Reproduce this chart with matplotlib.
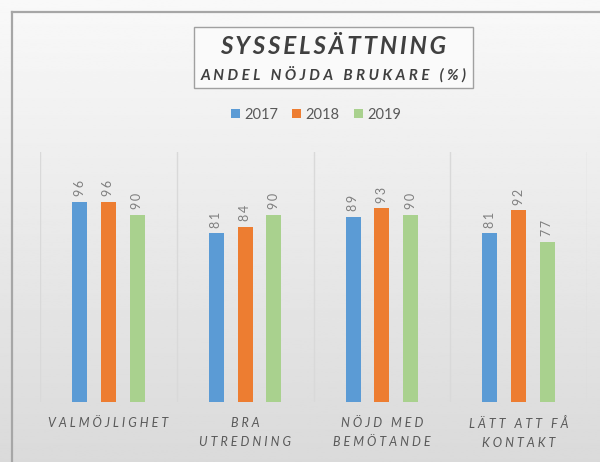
import numpy as np
import matplotlib
matplotlib.use("Agg")
import matplotlib.pyplot as plt
from matplotlib.patches import Rectangle

# ----------------------------------------------------------
# Data
# ----------------------------------------------------------
categories = ["VALMÖJLIGHET", "BRA\nUTREDNING", "NÖJD MED\nBEMÖTANDE", "LÄTT ATT FÅ\nKONTAKT"]
years = ["2017", "2018", "2019"]
values_2017 = [96, 81, 89, 81]
values_2018 = [96, 84, 93, 92]
values_2019 = [90, 90, 90, 77]
colors = ["#5b9bd5", "#ed7d31", "#a9d18e"]

title = "SYSSELSÄTTNING"
subtitle = "ANDEL NÖJDA BRUKARE (%)"

FONT = ["Lato", "DejaVu Sans"]
TXT = "#595959"


def spaced(s, sep="\u2009"):
    # fake letter spacing with thin spaces
    return "\n".join(sep.join(line) for line in s.split("\n"))


fig = plt.figure(figsize=(6.0, 4.62), dpi=100)

# ----------------------------------------------------------
# Background gradient + border
# ----------------------------------------------------------
bg = fig.add_axes([0, 0, 1, 1], zorder=-10)
grad = np.linspace(0.975, 0.855, 256).reshape(-1, 1)
bg.imshow(grad, aspect="auto", cmap="gray", vmin=0, vmax=1,
          extent=[0, 1, 0, 1], origin="upper")
bg.set_xlim(0, 1)
bg.set_ylim(0, 1)
bg.axis("off")
bg.plot([12 / 600, 12 / 600], [0, 1 - 12 / 462], color="#a6a6a6", lw=1.6)
bg.plot([12 / 600, 1], [1 - 12 / 462, 1 - 12 / 462], color="#a6a6a6", lw=1.6)

# title box
bg.add_patch(Rectangle((194 / 600, 1 - 88 / 462), 279 / 600, 61 / 462,
                       facecolor="#fafafa", edgecolor="#a0a0a0", lw=1.0))
bg.text(333 / 600, 1 - 47 / 462, spaced(title), ha="center", va="center",
        fontsize=17.5, fontweight="bold", fontstyle="italic", color="#404040", family=FONT)
bg.text(334 / 600, 1 - 74 / 462, spaced(subtitle, "\u2009\u2009"), ha="center", va="center",
        fontsize=10.8, fontweight="bold", fontstyle="italic", color="#404040", family=FONT)

# ----------------------------------------------------------
# Bars
# ----------------------------------------------------------
ax = fig.add_axes([40 / 600, 60 / 462, 547 / 600, 250 / 462])
ax.patch.set_alpha(0)

x = np.arange(len(categories))
series = [values_2017, values_2018, values_2019]
offsets = [-0.21, 0.0, 0.21]
width = 0.11

for vals, off, col, yr in zip(series, offsets, colors, years):
    bars = ax.bar(x + off, vals, width, color=col, label=yr, zorder=3)
    for b, v in zip(bars, vals):
        ax.annotate(spaced(str(v)), (b.get_x() + b.get_width() / 2, v),
                    xytext=(0, 4), textcoords="offset points",
                    ha="center", va="bottom", rotation=90,
                    fontsize=9, color="#7f7f7f", family=FONT)

ax.set_xlim(-0.5, len(categories) - 0.5)
ax.set_ylim(0, 120)
for b in np.arange(-0.5, len(categories), 1.0):
    ax.axvline(b, color="#d9d9d9", lw=1.0, zorder=1)

for s in ax.spines.values():
    s.set_visible(False)
ax.set_yticks([])
ax.set_xticks(x)
ax.set_xticklabels([spaced(c, "\u2009\u2009") for c in categories], fontsize=9,
                   fontstyle="italic", color=TXT, family=FONT, linespacing=1.7)
ax.tick_params(axis="x", length=0, pad=11)

leg = ax.legend(loc="center", bbox_to_anchor=(316 / 600, 1 - 115 / 462),
                bbox_transform=fig.transFigure, ncol=3, frameon=False,
                handlelength=0.6, handleheight=0.6, handletextpad=0.3,
                columnspacing=1.0, prop={"family": FONT, "size": 10.5})
for t in leg.get_texts():
    t.set_color(TXT)

plt.savefig("out.png", dpi=100)
